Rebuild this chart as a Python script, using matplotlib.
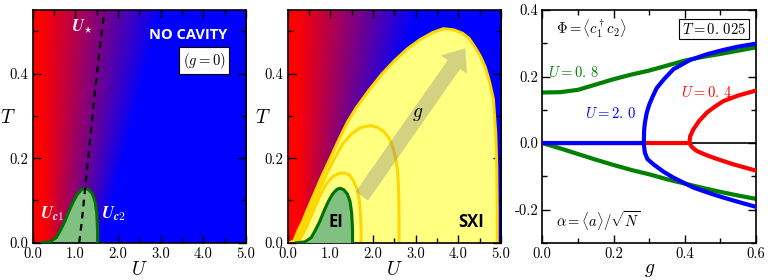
import numpy as np
import matplotlib
matplotlib.use('Agg')
import matplotlib.pyplot as plt
from matplotlib.ticker import MultipleLocator, FixedLocator, FixedFormatter

plt.rcParams['mathtext.fontset'] = 'cm'
plt.rcParams['font.family'] = 'serif'
plt.rcParams['font.serif'] = ['cmr10', 'DejaVu Serif']
plt.rcParams['axes.unicode_minus'] = False

# background colour field: pure red left of red_edge, pure blue right of blue_edge
grad_T = [0.0, 0.55]
grad_red_edge = [0.25, 0.18]
grad_blue_edge = [1.6, 3.0]

# U* crossover (dashed)
ustar_U = [1.09, 1.15, 1.23, 1.33, 1.44, 1.56, 1.68]
ustar_T = [0.0, 0.05, 0.13, 0.23, 0.34, 0.45, 0.55]

# EI boundary at g = 0
ei_U = [0.2, 0.4, 0.55, 0.65, 0.75, 0.85, 0.95, 1.05, 1.15, 1.23, 1.32, 1.4, 1.46, 1.5, 1.52, 1.52]
ei_T = [0.0, 0.002, 0.012, 0.03, 0.05, 0.075, 0.097, 0.115, 0.126, 0.129, 0.125, 0.115, 0.098, 0.07, 0.03, 0.0]

# SXI boundaries for increasing g
sx1_U = [0.2, 0.3, 0.45, 0.6, 0.75, 0.9, 1.05, 1.2, 1.33, 1.45, 1.55, 1.63, 1.68, 1.71, 1.72, 1.72]
sx1_T = [0.0, 0.01, 0.04, 0.075, 0.11, 0.138, 0.156, 0.164, 0.165, 0.16, 0.145, 0.125, 0.1, 0.06, 0.03, 0.0]
sx2_U = [0.12, 0.25, 0.35, 0.5, 0.7, 0.9, 1.1, 1.3, 1.5, 1.7, 1.93, 2.1, 2.25, 2.37, 2.46, 2.53, 2.58, 2.6, 2.61, 2.61]
sx2_T = [0.0, 0.015, 0.035, 0.07, 0.115, 0.16, 0.2, 0.235, 0.258, 0.272, 0.277, 0.273, 0.263, 0.248, 0.228, 0.2, 0.165, 0.12, 0.06, 0.0]
sx3_U = [0.05, 0.15, 0.25, 0.35, 0.45, 0.6, 0.8, 1.0, 1.2, 1.4, 1.6, 1.9, 2.2, 2.5, 2.8, 3.1, 3.4, 3.65, 3.9, 4.1, 4.25,
         4.39, 4.52, 4.63, 4.73, 4.82, 4.875, 4.9, 4.91, 4.91]
sx3_T = [0.0, 0.005, 0.03, 0.05, 0.075, 0.11, 0.157, 0.2, 0.244, 0.285, 0.318, 0.36, 0.398, 0.43, 0.458, 0.48, 0.497, 0.506,
         0.503, 0.495, 0.483, 0.462, 0.44, 0.415, 0.38, 0.34, 0.26, 0.18, 0.08, 0.0]

# right panel: order parameters vs g at T = 0.025
g08 = [0, 0.05, 0.1, 0.15, 0.2, 0.25, 0.3, 0.35, 0.4, 0.45, 0.5, 0.55, 0.6]
phi08 = [0.152, 0.153, 0.16, 0.176, 0.192, 0.206, 0.218, 0.233, 0.248, 0.259, 0.268, 0.278, 0.288]
alpha08 = [0, -0.016, -0.033, -0.05, -0.066, -0.081, -0.094, -0.109, -0.122, -0.135, -0.147, -0.158, -0.168]

g20_phi = [0, 0.285, 0.286, 0.288, 0.293, 0.3, 0.31, 0.321, 0.34, 0.368, 0.415, 0.462, 0.508, 0.55, 0.6]
phi20 = [0, 0, 0.04, 0.06, 0.09, 0.115, 0.14, 0.165, 0.19, 0.222, 0.25, 0.267, 0.28, 0.29, 0.299]
g20_alpha = [0.285, 0.286, 0.288, 0.295, 0.312, 0.34, 0.368, 0.4, 0.424, 0.47, 0.508, 0.55, 0.6]
alpha20 = [0, -0.012, -0.029, -0.048, -0.064, -0.086, -0.104, -0.121, -0.134, -0.151, -0.164, -0.177, -0.192]

g04_phi = [0, 0.413, 0.415, 0.424, 0.44, 0.462, 0.485, 0.508, 0.55, 0.6]
phi04 = [0, 0, 0.02, 0.041, 0.066, 0.0915, 0.11, 0.126, 0.143, 0.158]
g04_alpha = [0.413, 0.42, 0.434, 0.46, 0.48, 0.536, 0.6]
alpha04 = [0, -0.012, -0.024, -0.036, -0.044, -0.064, -0.083]

fig = plt.figure(figsize=(7.68, 2.8), dpi=100)
ax1 = fig.add_axes([0.0426, 0.133, 0.2778, 0.831])
ax2 = fig.add_axes([0.3746, 0.133, 0.2778, 0.831])
ax3 = fig.add_axes([0.7061, 0.133, 0.2783, 0.831])

# background image
uu = np.linspace(0, 5, 500)
tt = np.linspace(0, 0.55, 200)
img = np.zeros((len(tt), len(uu), 3))
for i, t in enumerate(tt):
    r_edge = np.interp(t, grad_T, grad_red_edge)
    b_edge = np.interp(t, grad_T, grad_blue_edge)
    f = np.clip((uu - r_edge) / (b_edge - r_edge), 0, 1)
    img[i, :, 0] = 1 - f
    img[i, :, 2] = f

green_edge = '#007000'
green_fill = '#80c080'
gold = '#ffd700'

for ax in (ax1, ax2):
    ax.imshow(img, extent=[0, 5, 0, 0.55], origin='lower', aspect='auto', zorder=0)
    ax.set_xlim(0, 5)
    ax.set_ylim(0, 0.55)
    ax.xaxis.set_major_locator(FixedLocator([0, 1, 2, 3, 4, 5]))
    ax.xaxis.set_major_formatter(FixedFormatter(['0.0', '1.0', '2.0', '3.0', '4.0', '5.0']))
    ax.xaxis.set_minor_locator(MultipleLocator(0.5))
    ax.yaxis.set_major_locator(FixedLocator([0.0, 0.2, 0.4]))
    ax.yaxis.set_major_formatter(FixedFormatter(['0.0', '0.2', '0.4']))
    ax.yaxis.set_minor_locator(MultipleLocator(0.1))
    ax.set_xlabel(r'$U$', fontsize=14, labelpad=0)
    ax.set_ylabel(r'$T$', fontsize=14, rotation=0, ha='center', va='center')
    ax.yaxis.set_label_coords(-0.115, 0.535)

# panel 1
ax1.fill(ei_U, ei_T, color=green_fill, zorder=2)
ax1.plot(ei_U, ei_T, color=green_edge, lw=2.2, zorder=3)
ax1.plot(ustar_U, ustar_T, color='k', lw=1.6, ls=(0, (3, 2.5)), zorder=4)
ax1.text(1.17, 0.51, r'$\mathbfit{U}_{\star}$', color='w', fontsize=12, ha='center', va='center')
ax1.text(3.65, 0.49, 'NO CAVITY', color='w', fontsize=10.5, fontweight='bold', family='Open Sans',
         ha='center', va='center')
ax1.text(4.02, 0.43, r'$(g=0)$', fontsize=10.5, ha='center', va='center',
         bbox=dict(boxstyle='square,pad=0.25', fc='w', ec='k', lw=0.8))
ax1.text(0.45, 0.07, r'$\mathbfit{U}_{\mathbfit{c}\mathbf{1}}$', color='w', fontsize=12, ha='center', va='center')
ax1.text(1.9, 0.07, r'$\mathbfit{U}_{\mathbfit{c}\mathbf{2}}$', color='w', fontsize=12, ha='center', va='center')

# panel 2
ax2.fill(sx3_U, sx3_T, color='#ffff80', zorder=1)
ax2.plot(sx3_U, sx3_T, color=gold, lw=2.2, zorder=2)
ax2.plot(sx2_U, sx2_T, color=gold, lw=2.2, zorder=2)
ax2.plot(sx1_U, sx1_T, color=gold, lw=2.2, zorder=2)
ax2.fill(ei_U, ei_T, color=green_fill, zorder=3)
ax2.plot(ei_U, ei_T, color=green_edge, lw=2.2, zorder=4)
ax2.annotate('', xy=(4.2, 0.465), xytext=(1.7, 0.105),
             arrowprops=dict(arrowstyle='simple,head_length=1.3,head_width=2.1,tail_width=1.0',
                             mutation_scale=11, color='gray', alpha=0.35, lw=0), zorder=5)
ax2.text(3.05, 0.305, r'$g$', fontsize=14, ha='center', va='center', zorder=6)
ax2.text(1.12, 0.05, 'EI', fontsize=12, fontweight='bold', family='Open Sans', ha='center', va='center', zorder=6)
ax2.text(4.3, 0.05, 'SXI', fontsize=12, fontweight='bold', family='Open Sans', ha='center', va='center', zorder=6)

# panel 3
ax3.axhline(0, color='k', lw=1.2, zorder=1)
ax3.plot(g08, phi08, color='green', lw=3, zorder=2)
ax3.plot(g08, alpha08, color='green', lw=3, zorder=2)
ax3.plot(g04_phi, phi04, color='red', lw=3, zorder=3)
ax3.plot(g04_alpha, alpha04, color='red', lw=3, zorder=3)
ax3.plot(g20_phi, phi20, color='blue', lw=3, zorder=4)
ax3.plot(g20_alpha, alpha20, color='blue', lw=3, zorder=4)
ax3.set_xlim(0, 0.6)
ax3.set_ylim(-0.3, 0.4)
ax3.xaxis.set_major_locator(FixedLocator([0.0, 0.2, 0.4, 0.6]))
ax3.xaxis.set_major_formatter(FixedFormatter(['0.0', '0.2', '0.4', '0.6']))
ax3.xaxis.set_minor_locator(MultipleLocator(0.1))
ax3.yaxis.set_major_locator(FixedLocator([-0.2, 0.0, 0.2, 0.4]))
ax3.yaxis.set_major_formatter(FixedFormatter(['-0.2', '0.0', '0.2', '0.4']))
ax3.yaxis.set_minor_locator(MultipleLocator(0.1))
ax3.set_xlabel(r'$g$', fontsize=14, labelpad=0)
ax3.text(0.137, 0.343, r'$\Phi=\langle c_1^\dagger c_2\rangle$', fontsize=10.5, ha='center', va='center')
ax3.text(0.481, 0.343, r'$T=0.\,025$', fontsize=10.5, ha='center', va='center',
         bbox=dict(boxstyle='square,pad=0.2', fc='w', ec='k', lw=0.8))
ax3.text(0.089, 0.212, r'$U=0.\,8$', color='green', fontsize=10.5, ha='center', va='center')
ax3.text(0.193, 0.09, r'$U=2.\,0$', color='blue', fontsize=10.5, ha='center', va='center')
ax3.text(0.462, 0.152, r'$U=0.\,4$', color='red', fontsize=10.5, ha='center', va='center')
ax3.text(0.157, -0.235, r'$\alpha=\langle a\rangle/\sqrt{N}$', fontsize=10.5, ha='center', va='center')

for ax in (ax1, ax2, ax3):
    ax.tick_params(which='both', direction='in', top=True, right=True, labelsize=10.5, pad=3)
    ax.tick_params(which='major', length=6, width=1)
    ax.tick_params(which='minor', length=3.5, width=1)
    for s in ax.spines.values():
        s.set_linewidth(1.2)

fig.savefig('out.png', dpi=100)
